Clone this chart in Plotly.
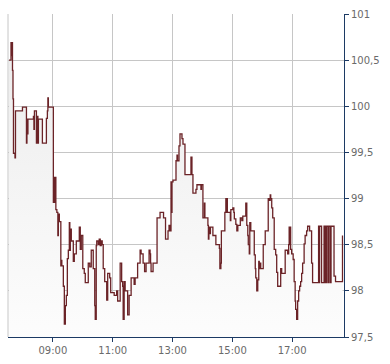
import plotly.graph_objects as go

DAY = "2024-01-15 "

times = ["07:32","07:36","07:37","07:38","07:39","07:40","07:41","07:44","07:45","07:59",
 "08:07","08:08","08:09","08:10","08:21","08:22","08:23","08:27","08:28","08:30",
 "08:31","08:39","08:47","08:49","08:50","08:51","09:01","09:03","09:04","09:05",
 "09:06","09:08","09:10","09:11","09:13","09:16","09:17","09:18","09:21","09:23",
 "09:25","09:27","09:29","09:31","09:33","09:34","09:35","09:37","09:41","09:43",
 "09:47","09:53","09:55","09:57","10:00","10:03","10:05","10:11","10:14","10:17",
 "10:21","10:24","10:25","10:27","10:28","10:31","10:33","10:35","10:37","10:39",
 "10:41","10:44","10:48","10:50","10:54","10:56","11:03","11:08","11:10","11:15",
 "11:18","11:20","11:21","11:23","11:25","11:30","11:33","11:37","11:43","11:45",
 "11:50","11:55","11:57","12:01","12:04","12:07","12:13","12:15","12:16","12:17",
 "12:21","12:29","12:35","12:42","12:46","12:51","12:53","12:55","12:57","12:58",
 "12:59","13:01","13:07","13:09","13:10","13:13","13:15","13:19","13:21","13:25",
 "13:37","13:39","13:41","13:47","13:49","13:57","13:58","14:01","14:04","14:05",
 "14:11","14:12","14:13","14:14","14:16","14:21","14:27","14:34","14:35","14:37",
 "14:38","14:45","14:47","14:48","14:49","14:50","14:56","14:57","15:01","15:03",
 "15:04","15:07","15:09","15:11","15:16","15:19","15:21","15:27","15:29","15:31",
 "15:32","15:34","15:35","15:37","15:44","15:46","15:47","15:49","15:51","15:53",
 "15:54","15:55","15:57","16:02","16:06","16:12","16:14","16:16","16:17","16:19",
 "16:21","16:24","16:27","16:29","16:31","16:37","16:39","16:46","16:51","16:53",
 "16:54","16:55","16:56","16:57","16:59","17:02","17:04","17:06","17:07","17:09",
 "17:11","17:13","17:15","17:17","17:19","17:21","17:24","17:26","17:29","17:31",
 "17:35","17:39","17:41","17:53","17:54","17:55","17:59","18:04","18:06","18:07",
 "18:09","18:10","18:13","18:14","18:17","18:18","18:24","18:27","18:41"]

prices = [100.50,100.69,100.55,100.69,100.39,100.08,99.49,99.44,99.95,99.99,
 99.60,99.86,99.70,99.86,99.89,99.75,99.95,99.60,99.89,99.60,
 99.86,99.60,99.87,99.95,100.09,99.99,98.96,99.23,98.96,99.23,
 98.88,98.85,98.60,98.83,98.75,98.27,98.33,98.27,98.05,97.64,
 97.84,97.95,98.35,98.44,98.74,98.44,98.67,98.54,98.32,98.40,
 98.54,98.69,98.45,98.60,98.24,98.19,98.09,98.30,98.26,98.44,
 98.24,97.84,97.69,98.49,98.54,98.50,98.56,98.49,98.54,98.50,
 98.24,98.10,97.90,98.19,98.14,97.98,97.95,98.00,97.89,98.30,
 98.10,98.05,97.69,98.10,98.00,97.74,97.95,98.14,98.07,98.14,
 98.30,98.44,98.40,98.30,98.21,98.30,98.44,98.40,98.30,98.21,
 98.30,98.79,98.85,98.79,98.56,98.65,98.71,98.65,99.18,98.85,
 99.18,99.20,99.41,99.47,99.41,99.57,99.70,99.65,99.59,99.26,
 99.45,99.26,99.06,99.10,99.15,99.10,99.15,98.79,98.95,98.79,
 98.71,98.56,98.69,98.62,98.69,98.60,98.50,98.46,98.24,98.30,
 98.65,98.85,99.00,98.85,99.00,98.85,98.76,98.88,98.90,98.85,
 98.78,98.72,98.65,98.71,98.79,98.76,98.81,98.95,98.71,98.60,
 98.50,98.40,98.74,98.65,98.39,98.24,98.14,98.00,98.12,98.32,
 98.24,98.30,98.24,98.50,98.65,99.00,98.98,99.04,99.00,98.90,
 98.79,98.45,98.39,98.20,98.05,98.24,98.19,98.44,98.40,98.50,
 98.69,98.50,98.69,98.45,98.40,98.34,98.10,97.89,97.80,97.69,
 97.89,98.00,98.05,98.10,98.19,98.30,98.51,98.60,98.65,98.70,
 98.65,98.30,98.09,98.70,98.09,98.70,98.09,98.70,98.09,98.70,
 98.09,98.70,98.09,98.70,98.09,98.70,98.16,98.10,98.60]

x_ticks = ["09:00", "11:00", "13:00", "15:00", "17:00"]
y_ticks = [97.5, 98, 98.5, 99, 99.5, 100, 100.5, 101]
x_start, x_end = "07:30", "18:44"

LINE = "#6b2327"
AXIS = "#1c3a64"
GRID = "#c6c6c6"
FONT = dict(family="DejaVu Sans", size=10, color="#6a6a6a")

fig = go.Figure()
fig.add_trace(go.Scatter(
    x=[DAY + t for t in times], y=prices,
    mode="lines", line=dict(color=LINE, width=1.3, shape="hv"),
    fill="tozeroy",
    fillgradient=dict(type="vertical", start=y_ticks[0], stop=max(prices),
                      colorscale=[[0, "#fdfdfd"], [1, "#ececec"]]),
    hoverinfo="skip", showlegend=False,
))

fig.update_layout(
    width=390, height=364,
    margin=dict(l=8, r=46, t=11, b=24),
    paper_bgcolor="white", plot_bgcolor="white",
    separators=", ",
    font=FONT,
    shapes=[dict(type="line", xref="paper", yref="paper", x0=0, x1=0, y0=0, y1=1,
                 line=dict(color=GRID, width=1))],
)
fig.update_xaxes(
    type="date", range=[DAY + x_start, DAY + x_end],
    tickvals=[DAY + t for t in x_ticks], ticktext=x_ticks,
    showgrid=True, gridcolor=GRID, gridwidth=1,
    showline=True, linecolor=AXIS, linewidth=1,
    ticks="outside", ticklen=4, tickcolor=AXIS,
    tickfont=FONT, zeroline=False,
)
fig.update_yaxes(
    side="right", range=[y_ticks[0], y_ticks[-1]],
    tickvals=y_ticks,
    showgrid=True, gridcolor=GRID, gridwidth=1,
    showline=True, linecolor=AXIS, linewidth=1,
    ticks="outside", ticklen=4, tickcolor=AXIS,
    tickfont=FONT, zeroline=False,
)

fig.write_html("out.html", config={"displayModeBar": False})
